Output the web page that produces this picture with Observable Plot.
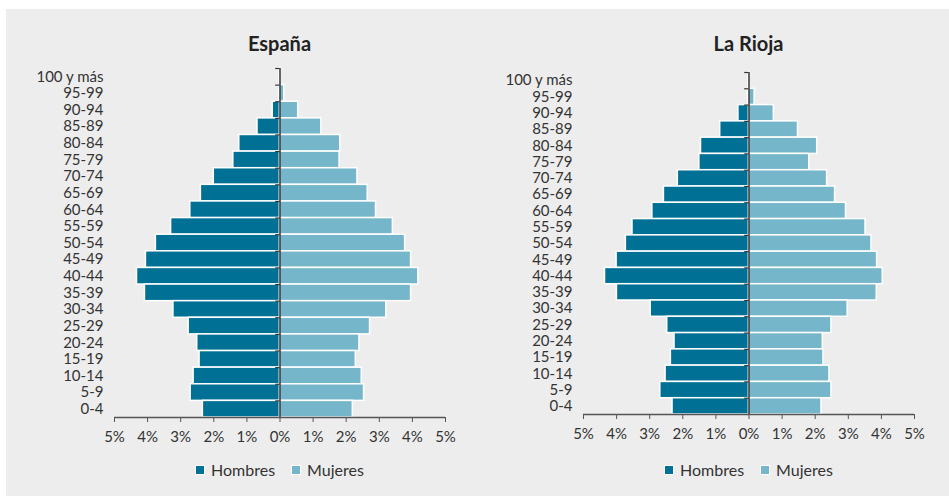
<!DOCTYPE html>
<html>
<head>
<meta charset="utf-8">
<script src="https://cdn.jsdelivr.net/npm/d3@7"></script>
<script src="https://cdn.jsdelivr.net/npm/@observablehq/plot@0.6"></script>
<style>
  body { margin: 0; background: #ffffff; font-family: Lato, "Open Sans", sans-serif; }
  #panel { position: absolute; left: 6px; top: 9px; width: 943px; height: 487px; background: #ededed; }
  .chart { position: absolute; top: 0; width: 460px; }
  .title { position: absolute; top: 30px; left: 114px; width: 331px; text-align: center; font-weight: 700; font-size: 20px; line-height: 26px; color: #222; }
  .plot { position: absolute; top: 56px; left: 0; }
  .legend { position: absolute; top: 459px; left: 114px; width: 331px; display: flex; justify-content: center; gap: 16px; font-size: 16px; line-height: 22px; color: #333; }
  .legend span { display: inline-flex; align-items: center; }
  .sw { display: inline-block; width: 8px; height: 8px; border: 1.5px solid #fff; margin-right: 6px; }
</style>
</head>
<body>
<div id="panel"></div>
<div class="chart" id="left" style="left:0px"></div>
<div class="chart" id="right" style="left:469px"></div>
<script>
const ageGroups = ["100 y más","95-99","90-94","85-89","80-84","75-79","70-74","65-69","60-64","55-59","50-54","45-49","40-44","35-39","30-34","25-29","20-24","15-19","10-14","5-9","0-4"];
const espanaHombres = [0.01,0.03,0.22,0.68,1.23,1.41,2.00,2.39,2.71,3.29,3.75,4.05,4.32,4.08,3.22,2.76,2.50,2.43,2.61,2.70,2.33];
const espanaMujeres = [0.02,0.13,0.55,1.25,1.82,1.80,2.34,2.65,2.90,3.41,3.78,3.96,4.18,3.96,3.21,2.72,2.40,2.29,2.47,2.54,2.20];
const riojaHombres = [0.01,0.03,0.32,0.87,1.45,1.50,2.15,2.57,2.92,3.52,3.72,4.00,4.35,3.99,2.97,2.47,2.25,2.36,2.52,2.68,2.31];
const riojaMujeres = [0.02,0.17,0.75,1.48,2.06,1.82,2.36,2.60,2.93,3.52,3.70,3.87,4.04,3.86,2.98,2.49,2.23,2.25,2.43,2.49,2.19];
const xTicks = [-5,-4,-3,-2,-1,0,1,2,3,4,5];
const seriesNames = ["Hombres","Mujeres"];
const colors = ["#007094","#76b6cb"];

function pyramid(el, title, hombres, mujeres, marginTop, height) {
  const container = document.getElementById(el);
  const t = document.createElement("div");
  t.className = "title"; t.textContent = title;
  container.appendChild(t);

  const marginBottom = 32;
  const bw = (height - marginTop - marginBottom) / ageGroups.length;
  const rows = [];
  ageGroups.forEach((g, i) => {
    rows.push({age: g, sex: seriesNames[0], v: -hombres[i]});
    rows.push({age: g, sex: seriesNames[1], v: mujeres[i]});
  });

  const plot = Plot.plot({
    width: 460,
    height,
    marginLeft: 114,
    marginRight: 15,
    marginTop,
    marginBottom,
    style: {background: "transparent", fontSize: "15px", fontFamily: "Lato, 'Open Sans', sans-serif", color: "#333"},
    x: {domain: [-5, 5]},
    y: {domain: ageGroups, padding: 0, round: false},
    color: {domain: seriesNames, range: colors},
    marks: [
      Plot.barX(rows, {y: "age", x1: 0, x2: "v", fill: "sex", stroke: "#ffffff", strokeWidth: 1.5, inset: 0}),
      Plot.ruleY(ageGroups, {y: d => d, x1: -0.13, x2: 0, dy: -bw / 2, stroke: "#333", strokeWidth: 1.2}),
      Plot.ruleX([0], {stroke: "#333", strokeWidth: 1.5}),
      Plot.ruleY([ageGroups[ageGroups.length - 1]], {y: d => d, x1: -5, x2: 5, dy: bw / 2, stroke: "#555", strokeWidth: 1.3}),
      Plot.axisX({ticks: xTicks, tickFormat: d => Math.abs(d) + "%", tickSize: 5, tickPadding: 9, stroke: "#555", fill: "#333", label: null}),
      Plot.axisY({anchor: "left", tickSize: 0, tickPadding: 11, fill: "#333", label: null})
    ]
  });
  plot.classList.add("plot");
  container.appendChild(plot);

  const leg = document.createElement("div");
  leg.className = "legend";
  seriesNames.forEach((n, i) => {
    const s = document.createElement("span");
    const sw = document.createElement("span");
    sw.className = "sw"; sw.style.background = colors[i];
    s.appendChild(sw);
    s.appendChild(document.createTextNode(n));
    leg.appendChild(s);
  });
  container.appendChild(leg);
}

pyramid("left", "España", espanaHombres, espanaMujeres, 12, 393);
pyramid("right", "La Rioja", riojaHombres, riojaMujeres, 16, 390);
</script>
</body>
</html>
